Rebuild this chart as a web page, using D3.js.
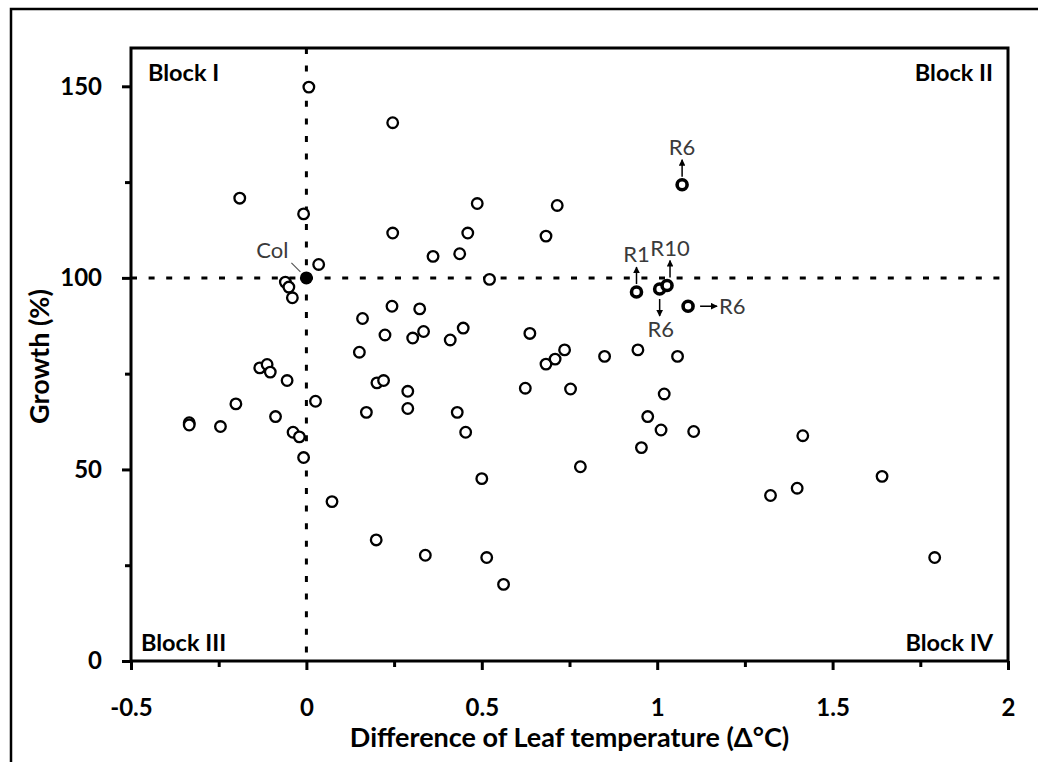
<!DOCTYPE html>
<html>
<meta charset="utf-8">
<head>
<style>
body { margin: 0; background: #fff; }
text { font-family: Lato, "Open Sans", sans-serif; }
.tick text { font-size: 24px; font-weight: bold; fill: #000; }
.blk { font-size: 23.5px; font-weight: bold; }
.ttl { font-size: 27px; font-weight: bold; }
.ann { font-size: 22px; fill: #3a3a3a; }
.pt { fill: #fff; stroke: #000; stroke-width: 2.3px; }
.hl { fill: #fff; stroke: #000; stroke-width: 3.6px; }
</style>
</head>
<body>
<script src="https://cdn.jsdelivr.net/npm/d3@7"></script>
<script>

// leaf temperature difference (x) and growth (y) of the ordinary lines
var diffTemp = [0.007, 0.246, -0.19, -0.008, 0.246, 0.487, 0.715, 0.46, 0.683, 0.361,
  0.437, 0.035, -0.06, -0.05, -0.04, 0.522, 0.16, 0.244, 0.323, 0.224,
  0.303, 0.334, 0.41, 0.447, 0.637, 0.683, 0.709, 0.736, 0.85, 0.945,
  1.058, 0.151, -0.133, -0.112, -0.103, -0.055, 0.201, 0.22, -0.201, 0.026,
  0.171, -0.334, -0.334, -0.245, -0.088, -0.038, -0.02, -0.008, 0.289, 0.289,
  0.43, 0.454, 0.5, 0.624, 0.753, 0.781, 0.955, 0.973, 1.011, 1.02,
  1.104, 1.415, 1.641, 1.399, 1.323, 1.791, 0.073, 0.199, 0.339, 0.514, 0.562];
var growth = [149.8, 140.5, 120.8, 116.7, 111.7, 119.4, 118.9, 111.7, 110.9, 105.6,
  106.3, 103.5, 98.9, 97.6, 94.8, 99.6, 89.4, 92.6, 91.9, 85.1,
  84.3, 86.0, 83.8, 86.9, 85.5, 77.5, 78.8, 81.2, 79.5, 81.2,
  79.5, 80.6, 76.5, 77.4, 75.4, 73.2, 72.6, 73.2, 67.1, 67.8,
  64.9, 62.2, 61.6, 61.2, 63.8, 59.7, 58.5, 53.1, 70.4, 65.9,
  64.9, 59.7, 47.6, 71.2, 71.0, 50.7, 55.7, 63.8, 60.3, 69.7,
  59.9, 58.8, 48.2, 45.1, 43.2, 27.0, 41.6, 31.6, 27.6, 27.0, 20.0];

// selected lines (bold circles)
var selTemp = [0.941, 1.007, 1.028, 1.071, 1.088];
var selGrowth = [96.3, 97.1, 98.0, 124.3, 92.6];

// wild type
var colTemp = 0, colGrowth = 100;

// annotations: label, anchor point, arrow direction
var annLabel = ["R6", "R1", "R10", "R6", "R6"];
var annTemp = [1.071, 0.941, 1.028, 1.007, 1.088];
var annGrowth = [124.3, 96.3, 98.0, 97.1, 92.6];
var annDir = ["up", "up", "up", "down", "right"];

var xMajor = [-0.5, 0, 0.5, 1, 1.5, 2];
var xMinor = [-0.25, 0.25, 0.75, 1.25, 1.75];
var yMajor = [0, 50, 100, 150];
var yMinor = [25, 75, 125];

var W = 1038, H = 762;
var margin = {top: 48, right: 30, bottom: 101, left: 131},
    width = 877,
    height = H - margin.top - margin.bottom;

var svg = d3.select("body").append("svg")
    .attr("width", W)
    .attr("height", H);

// outer border (runs off the page to the right and bottom)
svg.append("rect")
    .attr("x", 11).attr("y", 9)
    .attr("width", 1200).attr("height", 900)
    .attr("fill", "none")
    .attr("stroke", "#000")
    .attr("stroke-width", 2.5);

var g = svg.append("g")
    .attr("transform", "translate(" + margin.left + "," + margin.top + ")");

var x = d3.scaleLinear().domain([-0.5, 2]).range([0, width]);
var y = d3.scaleLinear().domain([0, 160]).range([height, 0]);

// reference lines
g.append("line")
    .attr("x1", x(0)).attr("x2", x(0))
    .attr("y1", 0).attr("y2", height)
    .attr("stroke", "#000").attr("stroke-width", 3)
    .attr("stroke-dasharray", "6,11.6");
g.append("line")
    .attr("x1", 0).attr("x2", width)
    .attr("y1", y(100)).attr("y2", y(100))
    .attr("stroke", "#000").attr("stroke-width", 3)
    .attr("stroke-dasharray", "6,11.6");

// frame
g.append("rect")
    .attr("width", width).attr("height", height)
    .attr("fill", "none").attr("stroke", "#000").attr("stroke-width", 3);

// axes
function styleAxis(sel) {
  sel.select(".domain").remove();
  sel.selectAll(".tick line").attr("stroke", "#000").attr("stroke-width", 3);
}
g.append("g")
    .attr("transform", "translate(0," + height + ")")
    .call(d3.axisBottom(x).tickValues(xMajor).tickSize(9).tickPadding(29)
      .tickFormat(function(d) { return String(d); }))
    .call(styleAxis);
g.append("g")
    .attr("transform", "translate(0," + height + ")")
    .call(d3.axisBottom(x).tickValues(xMinor).tickSize(6).tickFormat(""))
    .call(styleAxis);
g.append("g")
    .call(d3.axisLeft(y).tickValues(yMajor).tickSize(9).tickPadding(20))
    .call(styleAxis);
g.append("g")
    .call(d3.axisLeft(y).tickValues(yMinor).tickSize(6).tickFormat(""))
    .call(styleAxis);
g.selectAll(".tick text").attr("font-family", null).attr("font-size", null);

// axis titles
g.append("text")
    .attr("class", "ttl")
    .attr("x", width / 2).attr("y", height + 86)
    .attr("text-anchor", "middle")
    .text("Difference of Leaf temperature (Δ°C)");
g.append("text")
    .attr("class", "ttl")
    .attr("transform", "translate(" + (40 - margin.left) + "," + (height / 2 + 2) + ") rotate(-90)")
    .attr("text-anchor", "middle")
    .attr("dy", "0.35em")
    .text("Growth (%)");

// quadrant labels
g.append("text").attr("class", "blk").attr("x", 17).attr("y", 33).text("Block I");
g.append("text").attr("class", "blk").attr("x", width - 15).attr("y", 33)
    .attr("text-anchor", "end").text("Block II");
g.append("text").attr("class", "blk").attr("x", 10).attr("y", height - 10).text("Block III");
g.append("text").attr("class", "blk").attr("x", width - 15).attr("y", height - 10)
    .attr("text-anchor", "end").text("Block IV");

// points
var pts = diffTemp.map(function(d, i) { return {x: d, y: growth[i]}; });
g.selectAll(".pt").data(pts).enter().append("circle")
    .attr("class", "pt")
    .attr("cx", function(d) { return x(d.x); })
    .attr("cy", function(d) { return y(d.y); })
    .attr("r", 5.3);

var sel = selTemp.map(function(d, i) { return {x: d, y: selGrowth[i]}; });
g.selectAll(".hl").data(sel).enter().append("circle")
    .attr("class", "hl")
    .attr("cx", function(d) { return x(d.x); })
    .attr("cy", function(d) { return y(d.y); })
    .attr("r", 5);

g.append("circle")
    .attr("cx", x(colTemp)).attr("cy", y(colGrowth))
    .attr("r", 6.5).attr("fill", "#000");
g.append("line")
    .attr("x1", x(colTemp) - 15).attr("y1", y(colGrowth) - 15)
    .attr("x2", x(colTemp) - 6).attr("y2", y(colGrowth) - 6)
    .attr("stroke", "#555").attr("stroke-width", 1.2);
g.append("text").attr("class", "ann")
    .attr("x", x(colTemp) - 18).attr("y", y(colGrowth) - 20)
    .attr("text-anchor", "end")
    .text("Col");

// arrows + labels
svg.append("defs").append("marker")
    .attr("id", "head")
    .attr("viewBox", "0 0 10 10")
    .attr("refX", 9).attr("refY", 5)
    .attr("markerWidth", 4.5).attr("markerHeight", 4.5)
    .attr("markerUnits", "strokeWidth")
    .attr("orient", "auto")
  .append("path").attr("d", "M0,0L10,5L0,10z").attr("fill", "#000");

var ann = annLabel.map(function(d, i) {
  return {label: d, x: annTemp[i], y: annGrowth[i], dir: annDir[i]};
});
var off = {
  up:    {x1: 0, y1: -8, x2: 0, y2: -25, tx: 0, ty: -30, anchor: "middle"},
  down:  {x1: 0, y1: 10, x2: 0, y2: 27, tx: 1, ty: 48, anchor: "middle"},
  right: {x1: 12, y1: 0, x2: 29, y2: 0, tx: 31, ty: 8, anchor: "start"}
};
ann.forEach(function(a, i) {
  var o = off[a.dir];
  var cx = x(a.x) + (a.label == "R10" ? 3 : 0), cy = y(a.y);
  g.append("line")
      .attr("x1", cx + o.x1).attr("y1", cy + o.y1)
      .attr("x2", cx + o.x2).attr("y2", cy + o.y2)
      .attr("stroke", "#000").attr("stroke-width", 1.5)
      .attr("marker-end", "url(#head)");
  g.append("text").attr("class", "ann")
      .attr("x", cx + o.tx).attr("y", cy + o.ty)
      .attr("text-anchor", o.anchor)
      .text(a.label);
});

</script>
</body>
</html>
